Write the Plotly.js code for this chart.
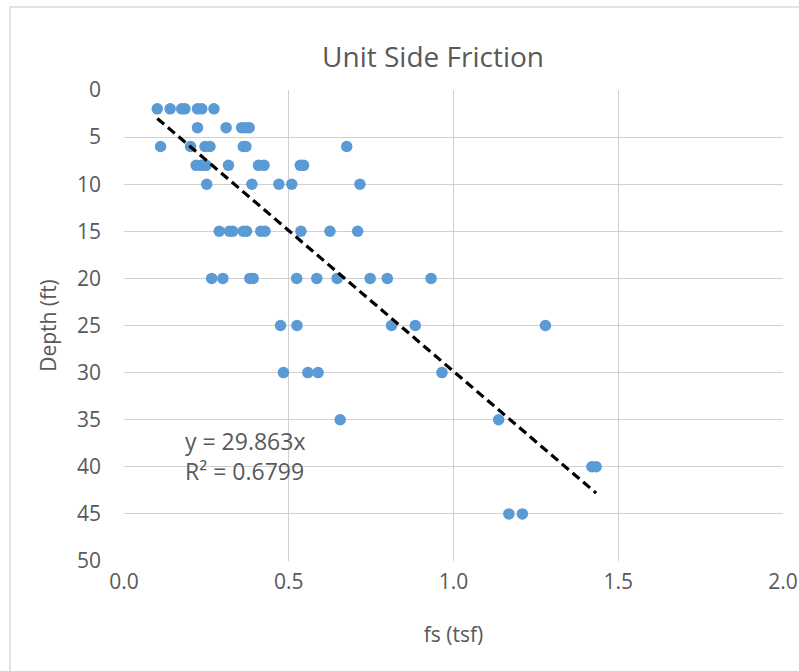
<!DOCTYPE html>
<html>
<head>
<meta charset="utf-8">
<script src="https://cdn.plot.ly/plotly-3.0.1.min.js"></script>
<style>
html,body{margin:0;padding:0;background:#fff;}
#chart{width:799px;height:671px;}
</style>
</head>
<body>
<div id="chart"></div>
<script>
// Data
const depth2  = [0.101, 0.140, 0.175, 0.185, 0.223, 0.236, 0.273];
const depth4  = [0.223, 0.310, 0.357, 0.368, 0.380];
const depth6  = [0.111, 0.202, 0.246, 0.261, 0.362, 0.370, 0.676];
const depth8  = [0.219, 0.234, 0.249, 0.317, 0.408, 0.425, 0.535, 0.545];
const depth10 = [0.251, 0.388, 0.470, 0.509, 0.716];
const depth15 = [0.289, 0.320, 0.330, 0.362, 0.372, 0.415, 0.428, 0.537, 0.625, 0.709];
const depth20 = [0.266, 0.300, 0.382, 0.392, 0.524, 0.585, 0.647, 0.747, 0.799, 0.932];
const depth25 = [0.475, 0.525, 0.812, 0.884, 1.279];
const depth30 = [0.484, 0.558, 0.589, 0.965];
const depth35 = [0.656, 1.137];
const depth40 = [1.420, 1.433];
const depth45 = [1.168, 1.209];

const groups = [[2, depth2],[4, depth4],[6, depth6],[8, depth8],[10, depth10],[15, depth15],
                [20, depth20],[25, depth25],[30, depth30],[35, depth35],[40, depth40],[45, depth45]];

const slope = 29.863;
const r2 = 0.6799;
const xTickVals = [0, 0.5, 1.0, 1.5, 2.0];
const yTickVals = [0, 5, 10, 15, 20, 25, 30, 35, 40, 45, 50];

const fsVals = [], depthVals = [];
groups.forEach(([d, arr]) => arr.forEach(v => { fsVals.push(v); depthVals.push(d); }));

const xMin = Math.min(...fsVals), xMax = Math.max(...fsVals);

const textColor = '#595959';
const gridColor = '#d0d0d0';
const fontFam = '"Open Sans", "Noto Sans", sans-serif';

const traces = [
  {
    x: fsVals, y: depthVals, type: 'scatter', mode: 'markers',
    marker: {color: '#5B9BD5', size: 11.5},
    hoverinfo: 'skip', showlegend: false
  },
  {
    x: [xMin, xMax], y: [slope * xMin, slope * xMax], type: 'scatter', mode: 'lines',
    line: {color: '#000000', width: 3.2, dash: '9px,5px'},
    hoverinfo: 'skip', showlegend: false
  }
];

const layout = {
  width: 799, height: 671,
  margin: {l: 124, r: 16, t: 90, b: 110},
  paper_bgcolor: '#ffffff', plot_bgcolor: '#ffffff',
  font: {family: fontFam, color: textColor},
  title: {text: 'Unit Side Friction', font: {size: 28, color: textColor, family: fontFam},
          x: 0.542, xanchor: 'center', y: 0.915, yanchor: 'middle'},
  xaxis: {
    range: [0, 2], tickvals: xTickVals, tickformat: '.1f',
    showgrid: true, gridcolor: gridColor, gridwidth: 1, zeroline: false, showline: false,
    ticks: '', tickfont: {size: 21, color: textColor}, ticklabelstandoff: 6,
    title: {text: 'fs (tsf)', font: {size: 21, color: textColor}, standoff: 33},
    fixedrange: true
  },
  yaxis: {
    range: [50, 0], tickvals: yTickVals,
    showgrid: true, gridcolor: gridColor, gridwidth: 1, zeroline: false, showline: false,
    ticks: '', tickfont: {size: 21, color: textColor}, ticklabelstandoff: 22,
    title: {text: 'Depth (ft)', font: {size: 21, color: textColor}, standoff: 14},
    fixedrange: true
  },
  annotations: [{
    xref: 'x', yref: 'y', x: 0.18, y: 38.9, xanchor: 'left', yanchor: 'middle', align: 'left',
    text: 'y = ' + slope + 'x<br>R² = ' + r2, showarrow: false,
    font: {size: 23, color: textColor}
  }],
  shapes: [{
    type: 'rect', xref: 'paper', yref: 'paper', x0: -0.173, x1: 1.05, y0: -0.3, y1: 1.176,
    line: {color: '#d9d9d9', width: 1.5}, fillcolor: 'rgba(0,0,0,0)', layer: 'below'
  }]
};

Plotly.newPlot('chart', traces, layout, {displayModeBar: false, staticPlot: true});
</script>
</body>
</html>
